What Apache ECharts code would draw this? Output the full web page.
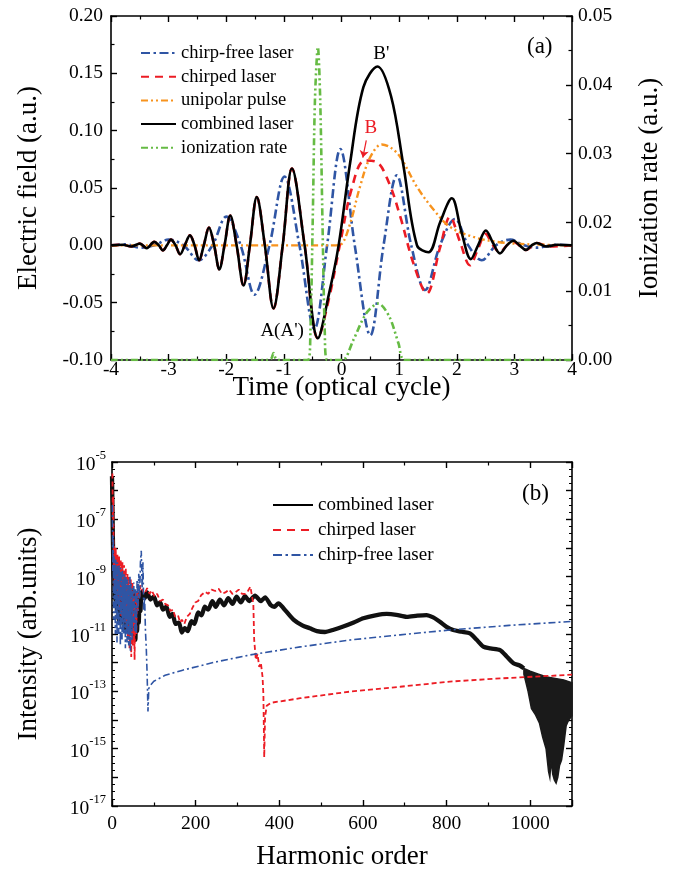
<!DOCTYPE html>
<html><head><meta charset="utf-8">
<script src="https://cdn.jsdelivr.net/npm/echarts@6/dist/echarts.min.js"></script>
<style>html,body{margin:0;padding:0;background:#fff}#c{width:693px;height:876px}</style>
</head><body><div id="c"></div>
<script>
const FONT = '"Liberation Serif","Times New Roman",serif';

// ---------- Panel (a): time in optical cycles, field in a.u. ----------
const chirpFreeField = [[-4.0,0.000],[-3.75,0.001],[-3.50,-0.002],[-3.25,0.000],[-3.00,0.005],[-2.74,0.000],[-2.48,-0.013],[-2.24,0.000],[-2.00,0.025],[-1.75,0.000],[-1.51,-0.043],[-1.25,0.000],[-0.99,0.060],[-0.73,0.000],[-0.47,-0.073],[-0.25,0.000],[-0.02,0.084],[0.23,0.000],[0.50,-0.0785],[0.73,0.000],[0.96,0.061],[1.21,0.000],[1.45,-0.039],[1.71,0.000],[1.97,0.023],[2.20,0.000],[2.435,-0.013],[2.68,0.000],[2.93,0.005],[3.17,0.000],[3.40,-0.002],[3.70,0.0005],[4.0,0.000]];

const chirpedField = [[-4.00,0.000],[-3.80,0.0005],[-3.65,-0.001],[-3.50,0.0015],[-3.38,-0.0025],[-3.25,0.003],[-3.17,0.000],[-3.10,-0.0044],[-3.03,0.000],[-2.96,0.005],[-2.88,0.000],[-2.80,-0.0078],[-2.72,0.000],[-2.63,0.0087],[-2.55,0.000],[-2.47,-0.013],[-2.39,0.000],[-2.30,0.0154],[-2.21,0.000],[-2.12,-0.021],[-2.03,0.000],[-1.93,0.026],[-1.82,0.000],[-1.70,-0.035],[-1.59,0.000],[-1.47,0.042],[-1.33,0.000],[-1.18,-0.055],[-1.02,0.000],[-0.86,0.067],[-0.64,0.000],[-0.41,-0.081],[-0.22,-0.047],[-0.03,0.000],[0.18,0.050],[0.40,0.074],[0.60,0.073],[0.82,0.055],[1.02,0.025],[1.25,-0.016],[1.48,-0.042],[1.71,-0.002],[1.885,0.025],[2.05,0.004],[2.23,-0.0174],[2.37,-0.003],[2.50,0.010],[2.63,0.000],[2.75,-0.006],[2.87,0.000],[2.985,0.003],[3.20,-0.004],[3.39,0.002],[3.60,-0.001],[4.00,0.000]];

const unipolarField = [[-4.0,0.000],[-0.5,0.000],[-0.1,0.000],[0.0,0.001],[0.15,0.019],[0.32,0.051],[0.50,0.077],[0.70,0.088],[0.86,0.085],[1.02,0.077],[1.31,0.051],[1.60,0.031],[1.885,0.016],[2.29,0.0073],[2.70,0.003],[3.20,0.001],[4.0,0.000]];

const combinedField = [[-4.00,0.000],[-3.80,0.0005],[-3.65,-0.001],[-3.50,0.0015],[-3.38,-0.0025],[-3.25,0.003],[-3.17,0.000],[-3.10,-0.0044],[-3.03,0.000],[-2.96,0.005],[-2.88,0.000],[-2.80,-0.0078],[-2.72,0.000],[-2.63,0.0087],[-2.55,0.000],[-2.47,-0.013],[-2.39,0.000],[-2.30,0.0154],[-2.21,0.000],[-2.12,-0.021],[-2.03,0.000],[-1.93,0.026],[-1.82,0.000],[-1.70,-0.035],[-1.59,0.000],[-1.47,0.042],[-1.33,0.000],[-1.18,-0.055],[-1.02,0.000],[-0.86,0.067],[-0.64,0.000],[-0.41,-0.081],[-0.22,-0.043],[-0.05,0.000],[0.15,0.072],[0.38,0.138],[0.625,0.156],[0.86,0.130],[1.07,0.071],[1.31,0.000],[1.51,-0.006],[1.71,0.020],[1.915,0.041],[2.08,0.012],[2.245,-0.012],[2.37,0.000],[2.505,0.013],[2.63,0.002],[2.75,-0.007],[2.87,0.000],[2.985,0.004],[3.09,0.000],[3.20,-0.004],[3.30,0.000],[3.39,0.002],[3.55,-0.001],[3.75,0.0005],[4.00,0.000]];

const ionizationRate = [[-4.0,0],[-1.30,0],[-1.22,0.0002],[-1.18,0.001],[-1.14,0.0002],[-1.08,0],[-0.58,0],[-0.54,0.004],[-0.50,0.020],[-0.46,0.038],[-0.41,0.0455],[-0.37,0.038],[-0.33,0.020],[-0.29,0.004],[-0.25,0],[0.02,0],[0.20,0.0028],[0.43,0.0068],[0.64,0.0082],[0.83,0.0063],[0.99,0.0024],[1.10,0],[4.0,0]];

// ---------- Panel (b): harmonic order vs log10(intensity) ----------
const combinedHHG = [[0,-5.5],[2,-7.5],[4,-9.0],[6,-8.6],[8,-9.8],[10,-8.9],[12,-10.2],[14,-9.1],[16,-10.5],[18,-9.3],[20,-10.0],[22,-9.2],[24,-10.6],[26,-9.4],[28,-10.1],[30,-9.3],[32,-10.8],[34,-9.5],[36,-10.3],[38,-9.4],[40,-10.9],[42,-9.6],[44,-10.5],[46,-9.5],[48,-11.0],[50,-9.7],[52,-10.6],[54,-9.6],[56,-11.2],[58,-9.8],[60,-10.9],[62,-9.7],[64,-10.6],[66,-9.6],[68,-10.2],[71,-9.53],[78,-9.75],[84,-9.55],[92,-9.8],[100,-9.7],[108,-10.0],[115,-9.9],[122,-10.15],[130,-10.05],[138,-10.4],[145,-10.3],[152,-10.65],[160,-10.6],[167,-10.95],[174,-10.8],[181,-10.9],[190,-10.55],[197,-10.65],[206,-10.25],[214,-10.35],[222,-10.05],[230,-10.15],[240,-9.85],[248,-10.05],[258,-9.8],[268,-10.0],[278,-9.75],[288,-9.95],[298,-9.7],[308,-9.9],[318,-9.68],[328,-9.85],[342,-9.66],[356,-9.85],[366,-9.72],[380,-10.0],[388,-10.05],[398,-9.93],[410,-10.1],[434,-10.5],[455,-10.7],[473,-10.8],[490,-10.9],[509,-10.93],[530,-10.85],[553,-10.74],[578,-10.6],[601,-10.45],[630,-10.35],[657,-10.3],[680,-10.33],[705,-10.4],[730,-10.36],[752,-10.34],[768,-10.42],[784,-10.57],[800,-10.75],[816,-10.86],[836,-10.92],[856,-10.98],[872,-11.2],[888,-11.44],[905,-11.5],[928,-11.56],[945,-11.8],[960,-12.02],[975,-12.1],[985,-12.2]];
const combinedBandUpper = [[985,-12.2],[1000,-12.3],[1020,-12.4],[1040,-12.5],[1060,-12.55],[1080,-12.6],[1100,-12.7]];
const combinedBandLower = [[985,-12.4],[995,-13.0],[1003,-13.6],[1012,-13.8],[1022,-14.1],[1030,-14.6],[1038,-15.0],[1044,-15.8],[1047,-16.0],[1050,-15.4],[1054,-15.9],[1058,-16.1],[1062,-16.2],[1066,-16.0],[1070,-15.6],[1075,-15.4],[1080,-14.9],[1086,-14.2],[1092,-14.0],[1100,-13.85]];

const chirpedHHG = [[1,-5.4],[2,-7.0],[3,-6.2],[4,-8.6],[5,-7.9],[6,-9.4],[7,-8.1],[8,-9.0],[9,-8.0],[10,-9.6],[11,-8.3],[12,-9.2],[13,-8.2],[14,-9.8],[15,-8.4],[16,-9.4],[17,-8.3],[18,-10.1],[19,-8.5],[20,-9.5],[21,-8.4],[22,-10.4],[23,-8.6],[24,-9.7],[25,-8.5],[26,-10.0],[27,-8.8],[28,-9.4],[29,-8.6],[30,-10.6],[31,-8.9],[32,-9.8],[33,-8.7],[34,-10.8],[35,-9.0],[36,-10.2],[37,-8.9],[38,-11.2],[39,-9.2],[40,-10.3],[41,-9.0],[42,-11.5],[43,-9.3],[44,-10.6],[45,-9.1],[46,-11.8],[47,-9.4],[48,-10.4],[49,-9.2],[50,-11.4],[52,-9.5],[54,-11.9],[56,-9.7],[58,-11.0],[60,-9.5],[62,-10.2],[64,-9.3],[66,-9.7],[68,-9.3],[71,-9.42],[78,-9.6],[84,-9.4],[90,-9.6],[95,-9.48],[102,-9.7],[108,-9.6],[115,-9.85],[122,-9.8],[127,-9.95],[134,-10.0],[140,-10.2],[146,-10.15],[151,-10.4],[158,-10.35],[163,-10.6],[167,-10.5],[173,-10.65],[179,-10.4],[186,-10.3],[192,-10.1],[199,-9.9],[206,-9.85],[213,-9.65],[223,-9.53],[230,-9.6],[238,-9.45],[247,-9.5],[255,-9.42],[263,-9.6],[271,-9.55],[280,-9.45],[288,-9.6],[295,-9.55],[303,-9.45],[311,-9.6],[319,-9.6],[325,-9.5],[331,-9.35],[335,-9.7],[338,-9.95],[340,-11.2],[344,-11.9],[348,-11.7],[352,-12.15],[356,-12.0],[360,-12.5],[362,-13.1],[364,-15.3],[366,-13.9],[370,-13.5],[380,-13.4],[450,-13.24],[569,-13.01],[689,-12.84],[808,-12.66],[928,-12.55],[1100,-12.42]];

const chirpFreeHHG = [[1,-6.5],[2,-8.8],[3,-7.6],[4,-10.5],[5,-8.3],[6,-9.8],[7,-8.6],[8,-11.0],[9,-8.4],[10,-10.2],[11,-8.7],[12,-11.3],[13,-8.5],[14,-10.6],[15,-8.9],[16,-11.0],[17,-8.6],[18,-10.0],[19,-8.8],[20,-11.4],[21,-8.7],[22,-10.3],[23,-9.0],[24,-11.2],[25,-8.8],[26,-10.5],[27,-9.1],[28,-11.0],[29,-8.9],[30,-10.4],[31,-9.2],[32,-11.5],[33,-9.0],[34,-10.8],[35,-9.3],[36,-11.3],[37,-9.1],[38,-10.6],[39,-9.4],[40,-11.4],[41,-9.3],[42,-10.9],[43,-9.0],[44,-11.6],[45,-9.2],[46,-10.8],[47,-9.5],[48,-11.2],[49,-9.4],[50,-10.6],[52,-9.2],[54,-10.9],[56,-9.4],[58,-11.0],[60,-9.1],[62,-10.2],[64,-8.9],[66,-9.8],[68,-8.5],[70,-8.1],[72,-9.4],[74,-8.5],[76,-10.2],[78,-9.7],[80,-10.9],[82,-11.5],[84,-12.4],[86,-13.7],[88,-12.9],[91,-12.8],[100,-12.65],[127,-12.44],[167,-12.27],[246,-11.98],[330,-11.73],[450,-11.45],[569,-11.21],[689,-11.03],[808,-10.86],[950,-10.7],[1100,-10.56]];

// axis ranges / tick settings
const timeRange = [-4, 4];
const fieldRange = [-0.10, 0.20];
const rateRange = [0, 0.05];
const harmonicRange = [0, 1100];
const log10Range = [-17, -5];

const BLUE = '#2f55a4', RED = '#ec1c24', ORANGE = '#f7931e', GREEN = '#66bb44', BLACK = '#000';
const TICK_FS = 19.5, NAME_FS = 27;

function axisBase(extra) {
  return Object.assign({
    axisLine: {show: true, onZero: false, lineStyle: {color: '#000', width: 1.6}},
    axisTick: {show: true, inside: true, length: 6, lineStyle: {color: '#000', width: 1.4}},
    minorTick: {show: true, splitNumber: 2, length: 3.5, lineStyle: {color: '#000', width: 1.2}},
    splitLine: {show: false},
    nameMoveOverlap: false,
    axisLabel: {color: '#000', fontFamily: FONT, fontSize: TICK_FS},
    nameTextStyle: {color: '#000', fontFamily: FONT, fontSize: NAME_FS}
  }, extra);
}

const chart = echarts.init(document.getElementById('c'), null, {renderer: 'canvas'});

const legendText = fs => ({fontFamily: FONT, fontSize: fs, color: '#000', lineHeight: 20});

const option = {
  animation: false,
  backgroundColor: '#fff',
  grid: [
    {left: 111, top: 16, width: 461, height: 344},
    {left: 112, top: 462, width: 460, height: 344}
  ],
  xAxis: [
    axisBase({type: 'value', gridIndex: 0, position: 'bottom', min: timeRange[0], max: timeRange[1], interval: 1,
      name: 'Time (optical cycle)', nameLocation: 'middle', nameGap: 14,
      axisLabel: {color: '#000', fontFamily: FONT, fontSize: TICK_FS, margin: 0}}),
    axisBase({type: 'value', gridIndex: 0, position: 'top', min: timeRange[0], max: timeRange[1], interval: 1,
      axisLabel: {show: false}}),
    axisBase({type: 'value', gridIndex: 1, position: 'bottom', min: harmonicRange[0], max: harmonicRange[1], interval: 200,
      name: 'Harmonic order', nameLocation: 'middle', nameGap: 37,
      axisLabel: {color: '#000', fontFamily: FONT, fontSize: TICK_FS, margin: 8, showMaxLabel: false,
        formatter: v => (v > 1000 ? '' : String(v))}}),
    axisBase({type: 'value', gridIndex: 1, position: 'top', min: harmonicRange[0], max: harmonicRange[1], interval: 200,
      axisLabel: {show: false}})
  ],
  yAxis: [
    axisBase({type: 'value', gridIndex: 0, position: 'left', min: fieldRange[0], max: fieldRange[1], interval: 0.05,
      name: 'Electric field (a.u.)', nameLocation: 'middle', nameGap: 69, nameRotate: 90,
      axisLabel: {color: '#000', fontFamily: FONT, fontSize: TICK_FS, margin: 8,
        formatter: v => (Math.abs(v) < 1e-9 ? '0.00' : v.toFixed(2))}}),
    axisBase({type: 'value', gridIndex: 0, position: 'right', min: rateRange[0], max: rateRange[1], interval: 0.01,
      name: 'Ionization rate (a.u.)', nameLocation: 'middle', nameGap: 64, nameRotate: 90,
      axisLabel: {color: '#000', fontFamily: FONT, fontSize: TICK_FS, margin: 6,
        formatter: v => (Math.abs(v) < 1e-9 ? '0.00' : v.toFixed(2))}}),
    axisBase({type: 'value', gridIndex: 1, position: 'left', min: log10Range[0], max: log10Range[1], interval: 1,
      name: 'Intensity (arb.units)', nameLocation: 'middle', nameGap: 70, nameRotate: 90,
      minorTick: {show: true, splitNumber: 4, length: 3, lineStyle: {color: '#000', width: 1}},
      axisLabel: {color: '#000', fontFamily: FONT, margin: 6,
        formatter: v => (Math.round(v) % 2 !== 0 ? '{b|10}{s|' + Math.round(v) + '}' : ''),
        rich: {b: {fontFamily: FONT, fontSize: TICK_FS, color: '#000', lineHeight: 26, verticalAlign: 'bottom'},
               s: {fontFamily: FONT, fontSize: 12.5, color: '#000', lineHeight: 26, verticalAlign: 'top'}}}}),
    axisBase({type: 'value', gridIndex: 1, position: 'right', min: log10Range[0], max: log10Range[1], interval: 1,
      minorTick: {show: true, splitNumber: 4, length: 3, lineStyle: {color: '#000', width: 1}},
      axisLabel: {show: false}})
  ],
  legend: [
    {data: ['chirp-free laser', 'chirped laser', 'unipolar pulse', 'combined laser', 'ionization rate'],
     orient: 'vertical', left: 140, top: 43, padding: 0, itemWidth: 35, itemHeight: 20, itemGap: 3.7, itemTextGap: 2,
     itemStyle: {opacity: 0}, selectedMode: false, textStyle: legendText(18.5)},
    {data: ['combined laser', 'chirped laser', 'chirp-free laser'],
     orient: 'vertical', left: 272, top: 495, padding: 0, itemWidth: 40, itemHeight: 20, itemGap: 5, itemTextGap: 3,
     itemStyle: {opacity: 0}, selectedMode: false, textStyle: legendText(19)}
  ],
  graphic: [
    {type: 'text', left: 527, top: 35, style: {text: '(a)', font: '23px ' + FONT, fill: '#000'}},
    {type: 'text', left: 522, top: 482, style: {text: '(b)', font: '23px ' + FONT, fill: '#000'}}
  ],
  series: [
    {name: 'chirp-free laser', type: 'line', xAxisIndex: 0, yAxisIndex: 0, data: chirpFreeField, smooth: 0.35,
     symbol: 'none', z: 3, itemStyle: {color: BLUE}, lineStyle: {color: BLUE, width: 2.6, type: [9, 3.5, 2.5, 3.5]}},
    {name: 'chirped laser', type: 'line', xAxisIndex: 0, yAxisIndex: 0, data: chirpedField, smooth: 0.35,
     symbol: 'none', z: 4, itemStyle: {color: RED}, lineStyle: {color: RED, width: 2.6, type: [8, 6]},
     markLine: {silent: true, symbol: ['none', 'arrow'], symbolSize: 7, label: {show: false},
       lineStyle: {color: RED, width: 1.2, type: 'solid'},
       data: [[{coord: [0.43, 0.0916]}, {coord: [0.37, 0.0765]}]]},
     markPoint: {symbol: 'circle', symbolSize: 0, silent: true,
       label: {show: true, position: 'inside', color: RED, fontFamily: FONT, fontSize: 19, formatter: 'B'},
       data: [{coord: [0.51, 0.102]}]}},
    {name: 'unipolar pulse', type: 'line', xAxisIndex: 0, yAxisIndex: 0, data: unipolarField, smooth: 0.35,
     symbol: 'none', z: 5, itemStyle: {color: ORANGE}, lineStyle: {color: ORANGE, width: 2.4, type: [7, 3, 2, 3, 2, 3]}},
    {name: 'combined laser', type: 'line', xAxisIndex: 0, yAxisIndex: 0, data: combinedField, smooth: 0.35,
     symbol: 'none', z: 6, itemStyle: {color: BLACK}, lineStyle: {color: BLACK, width: 2.6},
     markPoint: {symbol: 'circle', symbolSize: 0, silent: true,
       label: {show: true, position: 'inside', color: '#000', fontFamily: FONT, fontSize: 19},
       data: [{coord: [0.69, 0.167], label: {formatter: "B'"}}, {coord: [-1.03, -0.075], label: {formatter: "A(A')"}}]}},
    {name: 'ionization rate', type: 'line', xAxisIndex: 0, yAxisIndex: 1, data: ionizationRate, smooth: 0.3,
     symbol: 'none', z: 7, itemStyle: {color: GREEN}, lineStyle: {color: GREEN, width: 2.6, type: [7, 3, 2, 3, 2, 3]}},

    {name: 'combined laser', type: 'line', xAxisIndex: 2, yAxisIndex: 2, data: combinedHHG, smooth: 0.25,
     symbol: 'none', z: 3, itemStyle: {color: BLACK}, lineStyle: {color: '#111', width: 4.3}},
    {type: 'custom', xAxisIndex: 2, yAxisIndex: 2, data: [[1040, -13]], z: 3, silent: true,
     renderItem: function (params, api) {
       const pts = combinedBandUpper.map(p => api.coord(p))
         .concat(combinedBandLower.slice().reverse().map(p => api.coord(p)));
       return {type: 'polygon', shape: {points: pts}, style: {fill: '#1a1a1a', stroke: '#1a1a1a', lineWidth: 1.5}};
     }},
    {name: 'chirped laser', type: 'line', xAxisIndex: 2, yAxisIndex: 2, data: chirpedHHG,
     symbol: 'none', z: 4, itemStyle: {color: RED}, lineStyle: {color: RED, width: 1.8, type: [5, 3]}},
    {name: 'chirp-free laser', type: 'line', xAxisIndex: 2, yAxisIndex: 2, data: chirpFreeHHG,
     symbol: 'none', z: 5, itemStyle: {color: BLUE}, lineStyle: {color: BLUE, width: 1.6, type: [7, 3, 2, 3]}}
  ]
};
chart.setOption(option);
</script>
</body></html>
